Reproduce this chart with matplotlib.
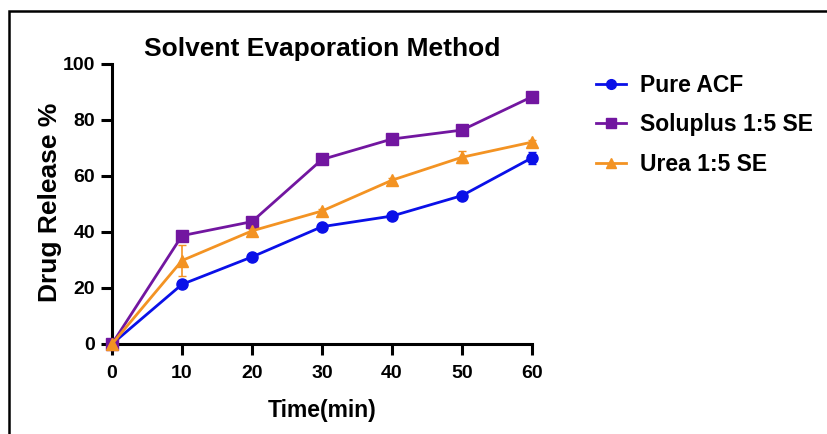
import matplotlib.pyplot as plt
from matplotlib.patches import Rectangle
from matplotlib.lines import Line2D

# Data
time_min = [0, 10, 20, 30, 40, 50, 60]
pure_acf = [0, 21.3, 31.1, 41.9, 45.7, 53.0, 66.5]
pure_acf_err = [0, 1.0, 0.8, 0.8, 0.8, 0.8, 2.1]
soluplus = [0, 38.7, 43.7, 65.9, 73.2, 76.4, 88.3]
soluplus_err = [0, 0.8, 0.8, 0.8, 0.8, 0.8, 0.8]
urea = [0, 29.8, 40.4, 47.5, 58.5, 66.7, 72.1]
urea_err = [0, 5.5, 0.8, 0.8, 0.8, 2.2, 0.8]

series = [
    ("Pure ACF", pure_acf, pure_acf_err, "#0A10E8", "o"),
    ("Soluplus 1:5 SE", soluplus, soluplus_err, "#7216A0", "s"),
    ("Urea 1:5 SE", urea, urea_err, "#F39323", "^"),
]

plt.rcParams['font.family'] = ['Liberation Sans', 'DejaVu Sans']
plt.rcParams['font.weight'] = 'bold'

W, H = 828, 434
fig = plt.figure(figsize=(W / 100, H / 100), dpi=100)
ax = fig.add_axes([112 / W, 1 - 344 / H, (532 - 112) / W, (344 - 64) / H])

handles = []
for label, vals, err, color, marker in series:
    ax.errorbar(time_min, vals, yerr=err, color=color, marker=marker,
                markersize=8, linewidth=2, elinewidth=1.2, capsize=3,
                clip_on=False, zorder=3)
    handles.append(Line2D([], [], color=color, marker=marker, markersize=7,
                          linewidth=2, label=label))

ax.set_xlim(0, 60)
ax.set_ylim(0, 100)
ax.set_xticks(time_min)
ax.set_yticks([0, 20, 40, 60, 80, 100])
ax.spines['top'].set_visible(False)
ax.spines['right'].set_visible(False)
for side in ['left', 'bottom']:
    ax.spines[side].set_linewidth(2.2)
ax.tick_params(width=2.2, length=8, labelsize=14, pad=4)
ax.tick_params(axis='x', pad=7)
for t in ax.get_xticklabels() + ax.get_yticklabels():
    t.set_fontweight('bold')

ax.set_title("Solvent Evaporation Method", fontsize=19, fontweight='bold', pad=6)
ax.set_xlabel("Time(min)", fontsize=16.5, fontweight='bold', labelpad=12)
ax.set_ylabel("Drug Release %", fontsize=19, fontweight='bold')
ax.yaxis.set_label_coords(50 / W, 1 - 202 / H, transform=fig.transFigure)
ax.yaxis.label.set_verticalalignment('center')

leg = fig.legend(handles=handles, loc='upper left',
                 bbox_to_anchor=(596 / W, 1 - 74 / H), frameon=False,
                 fontsize=16.5, handlelength=1.3, labelspacing=0.72,
                 handletextpad=0.6, borderaxespad=0, borderpad=0)
for t in leg.get_texts():
    t.set_fontweight('bold')

# outer frame of the original figure
fig.patches.append(Rectangle((9 / W, -0.1), 1.1, 1 - 11 / H + 0.1,
                             transform=fig.transFigure, fill=False,
                             edgecolor='black', linewidth=1.8))

fig.savefig("out.png", dpi=100)
